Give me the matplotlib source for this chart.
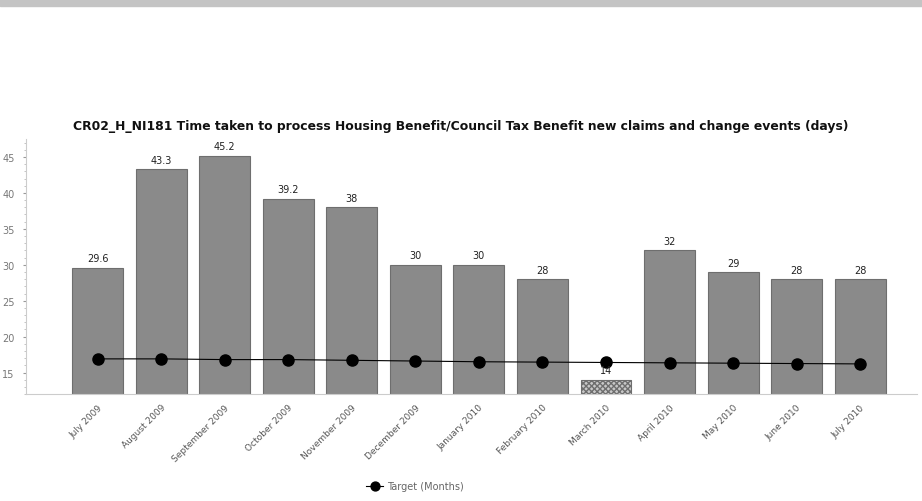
import matplotlib.pyplot as plt
from matplotlib.ticker import MultipleLocator
import numpy as np

months = ['July 2009', 'August 2009', 'September 2009', 'October 2009',
          'November 2009', 'December 2009', 'January 2010', 'February 2010',
          'March 2010', 'April 2010', 'May 2010', 'June 2010', 'July 2010']
days = [29.6, 43.3, 45.2, 39.2, 38, 30, 30, 28, 14, 32, 29, 28, 28]
value_labels = ['29.6', '43.3', '45.2', '39.2', '38', '30', '30', '28', '14',
                '32', '29', '28', '28']
target = [16.9, 16.9, 16.8, 16.8, 16.7, 16.6, 16.5, 16.45, 16.4, 16.35,
          16.3, 16.25, 16.2]

fig = plt.figure(figsize=(9.22, 5.02), dpi=100)
ax = fig.add_axes([0.028, 0.213, 0.967, 0.508])

# faint grey band along the top edge
fig.patches.append(plt.Rectangle((0, 0.986), 1, 0.014, transform=fig.transFigure,
                                 color='#c4c4c4', zorder=0))

x = np.arange(len(months))
colors = ['#8a8a8a'] * len(months)
colors[8] = '#c8c8c8'
bars = ax.bar(x, days, width=0.8, bottom=0, color=colors, edgecolor='#6e6e6e',
              linewidth=0.8, zorder=2)
bars[8].set_hatch('xxxxxx')

for xi, v, lab in zip(x, days, value_labels):
    ax.text(xi, v + 0.6, lab, ha='center', va='bottom', fontsize=7,
            color='#222222', zorder=4)

ax.plot(x, target, color='black', linewidth=0.8, marker='o', markersize=8,
        label='Target (Months)', zorder=3)

ax.set_ylim(12, 47.5)
ax.set_xlim(-1.13, 12.9)
ax.yaxis.set_minor_locator(MultipleLocator(1))
ax.set_yticks([15, 20, 25, 30, 35, 40, 45])
ax.tick_params(axis='y', labelsize=7, labelcolor='#777777', color='#999999',
               length=2, pad=6)
ax.tick_params(axis='y', which='minor', length=1.5, color='#bbbbbb')

ax.set_xticks(x)
ax.set_xticklabels(months, rotation=45, ha='right', rotation_mode='anchor',
                   fontsize=6.5, color='#555555')
ax.tick_params(axis='x', length=0, pad=6)

for side in ['top', 'right']:
    ax.spines[side].set_visible(False)
ax.spines['left'].set_color('#cccccc')
ax.spines['bottom'].set_color('#cccccc')

fig.text(0.5, 0.735, 'CR02_H_NI181 Time taken to process Housing Benefit/Council '
         'Tax Benefit new claims and change events (days)',
         ha='center', va='bottom', fontsize=8.9, fontweight='bold', color='#111111')

fig.legend(loc='center', bbox_to_anchor=(0.45, 0.03), frameon=False, fontsize=7,
           labelcolor='#666666', handlelength=1.8, handletextpad=0.4, markerscale=0.8)

fig.savefig('out.png', dpi=100)
